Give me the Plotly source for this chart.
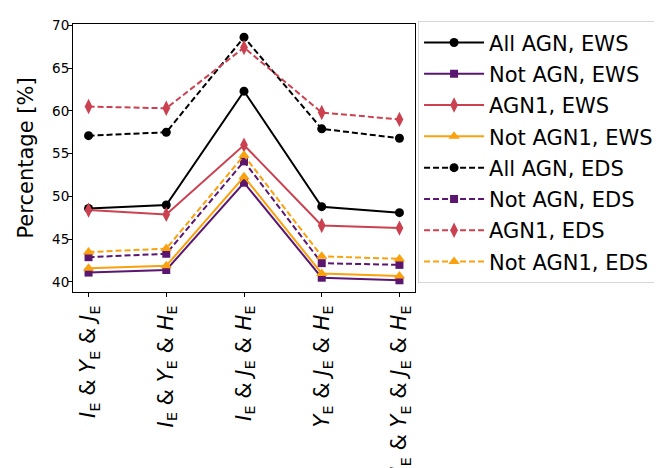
import plotly.graph_objects as go

categories = [
    "<i>I</i><sub>E</sub> &amp; <i>Y</i><sub>E</sub> &amp; <i>J</i><sub>E</sub>",
    "<i>I</i><sub>E</sub> &amp; <i>Y</i><sub>E</sub> &amp; <i>H</i><sub>E</sub>",
    "<i>I</i><sub>E</sub> &amp; <i>J</i><sub>E</sub> &amp; <i>H</i><sub>E</sub>",
    "<i>Y</i><sub>E</sub> &amp; <i>J</i><sub>E</sub> &amp; <i>H</i><sub>E</sub>",
    "<i>I</i><sub>E</sub> &amp; <i>Y</i><sub>E</sub> &amp; <i>J</i><sub>E</sub> &amp; <i>H</i><sub>E</sub>",
]

all_agn_ews = [48.6, 49.0, 62.3, 48.8, 48.1]
not_agn_ews = [41.1, 41.4, 51.6, 40.5, 40.2]
agn1_ews = [48.4, 47.9, 56.0, 46.6, 46.3]
not_agn1_ews = [41.6, 41.9, 52.3, 41.0, 40.7]
all_agn_eds = [57.1, 57.5, 68.6, 57.9, 56.8]
not_agn_eds = [42.9, 43.3, 54.1, 42.2, 42.0]
agn1_eds = [60.5, 60.3, 67.4, 59.8, 59.0]
not_agn1_eds = [43.5, 43.9, 54.8, 43.0, 42.7]

BLACK = "#000000"
PURPLE = "#5b1670"
RED = "#cb4150"
ORANGE = "#f9a20e"

series = [
    ("All AGN, EWS", all_agn_ews, BLACK, "circle", 9, "solid"),
    ("Not AGN, EWS", not_agn_ews, PURPLE, "square", 8, "solid"),
    ("AGN1, EWS", agn1_ews, RED, "diamond-tall", 11, "solid"),
    ("Not AGN1, EWS", not_agn1_ews, ORANGE, "triangle-up", 10, "solid"),
    ("All AGN, EDS", all_agn_eds, BLACK, "circle", 9, "6px,3px"),
    ("Not AGN, EDS", not_agn_eds, PURPLE, "square", 8, "6px,3px"),
    ("AGN1, EDS", agn1_eds, RED, "diamond-tall", 11, "6px,3px"),
    ("Not AGN1, EDS", not_agn1_eds, ORANGE, "triangle-up", 10, "6px,3px"),
]

xs = list(range(len(categories)))

fig = go.Figure()
for i, (name, vals, color, sym, size, dash) in enumerate(series):
    fig.add_trace(go.Scatter(
        x=xs, y=vals, name=name, mode="lines+markers",
        line=dict(color=color, width=2, dash=dash),
        marker=dict(color=color, symbol=sym, size=size),
        legendgroup=f"g{i}",
    ))

axis_common = dict(
    showline=True, linecolor="black", linewidth=1, mirror=True,
    ticks="outside", ticklen=4, tickcolor="black", tickwidth=1,
    showgrid=False, zeroline=False,
)

fig.update_layout(
    width=662, height=468,
    margin=dict(l=65, r=254, t=16, b=184),
    paper_bgcolor="white", plot_bgcolor="white",
    font=dict(family="DejaVu Sans", color="black"),
    xaxis=dict(
        **axis_common,
        range=[-0.2, 4.2],
        tickvals=xs, ticktext=categories,
        tickangle=-90, tickfont=dict(size=21),
        automargin=False,
    ),
    yaxis=dict(
        **axis_common,
        range=[38.83, 70.15],
        tickvals=[40, 45, 50, 55, 60, 65, 70],
        tickfont=dict(size=13.5),
        ticklabelstandoff=-4,
        title=dict(text="Percentage [%]", font=dict(size=21), standoff=12),
        automargin=False,
    ),
    legend=dict(
        x=1.006, xanchor="left", y=1.01, yanchor="top",
        font=dict(size=21),
        bordercolor="#d6d6d6", borderwidth=1,
        bgcolor="rgba(255,255,255,0.8)",
        tracegroupgap=1,
        itemwidth=60,
        maxheight=440,
    ),
    showlegend=True,
)

fig.write_html("out.html")
